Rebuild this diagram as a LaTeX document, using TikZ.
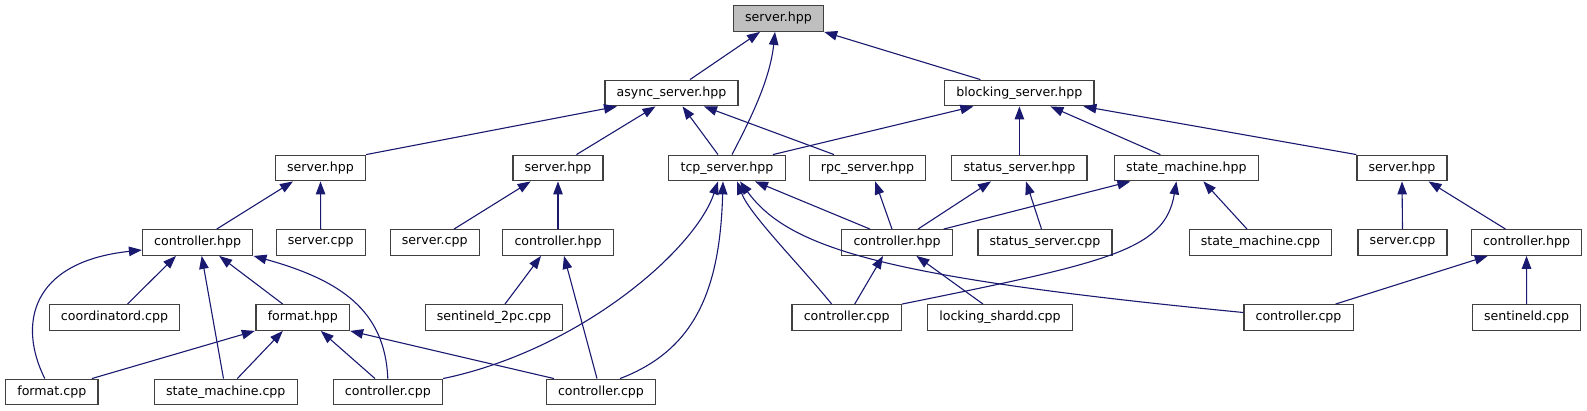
\documentclass[tikz,border=0pt]{standalone}
\usepackage{fontspec}
\setmainfont{DejaVu Sans}
\usepackage{tikz}
\usetikzlibrary{arrows.meta}
\definecolor{edgeblue}{RGB}{25,25,112}
\definecolor{focusgray}{RGB}{191,191,191}
\definecolor{boxline}{RGB}{64,64,64}

\begin{document}
\begin{tikzpicture}[x=1pt, y=-1pt,
  file/.style={draw=boxline, line width=1.25pt, fill=white, minimum height=25.6pt, inner xsep=11.7pt, inner ysep=0pt, font=\fontsize{12.6}{15}\selectfont},
  focus/.style={file, fill=focusgray},
  incl/.style={<-, >={Triangle[length=13pt, width=9.5pt]}, draw=edgeblue, line width=1.1pt}]
  \useasboundingbox (0,0) rectangle (1587,411);

  \node[focus] (server) at (778.5,18.5) {server.hpp};

  \node[file] (async) at (671.5,93) {async\_server.hpp};
  \node[file] (blocking) at (1019.4,93) {blocking\_server.hpp};

  \node[file] (asrv) at (320.5,168) {server.hpp};
  \node[file] (bsrv) at (558,168) {server.hpp};
  \node[file] (tcp) at (727,168) {tcp\_server.hpp};
  \node[file] (rpc) at (867.5,168) {rpc\_server.hpp};
  \node[file] (status) at (1019.4,168) {status\_server.hpp};
  \node[file] (smh) at (1186.4,168) {state\_machine.hpp};
  \node[file] (csrv) at (1402,168) {server.hpp};

  \node[file] (ctlA) at (197.7,242.5) {controller.hpp};
  \node[file] (srvcppA) at (320.7,242.5) {server.cpp};
  \node[file] (srvcppB) at (434.7,242.5) {server.cpp};
  \node[file] (ctlB) at (558,242.5) {controller.hpp};
  \node[file] (ctlC) at (897,242.5) {controller.hpp};
  \node[file] (statuscpp) at (1045,242.5) {status\_server.cpp};
  \node[file] (smcppC) at (1260.5,242.5) {state\_machine.cpp};
  \node[file] (srvcppC) at (1402.5,242.5) {server.cpp};
  \node[file] (ctlD) at (1526.5,242.5) {controller.hpp};

  \node[file] (coord) at (114.5,317.5) {coordinatord.cpp};
  \node[file] (fmth) at (302.8,317.5) {format.hpp};
  \node[file] (s2pc) at (494,317.5) {sentineld\_2pc.cpp};
  \node[file] (ctlcppC) at (846.7,317.5) {controller.cpp};
  \node[file] (locking) at (1000,317.5) {locking\_shardd.cpp};
  \node[file] (ctlcppD) at (1298.5,317.5) {controller.cpp};
  \node[file] (sentineld) at (1526.6,317.5) {sentineld.cpp};

  \node[file] (fmtcpp) at (51.8,392) {format.cpp};
  \node[file] (smcpp) at (225.8,392) {state\_machine.cpp};
  \node[file] (ctlcppA) at (387.8,392) {controller.cpp};
  \node[file] (ctlcppB) at (601,392) {controller.cpp};

  \draw[incl] ([xshift=-18.5pt]server.south) -- ([xshift=18.5pt]async.north);
  \draw[incl] ([xshift=-3.5pt]server.south) .. controls (770,80) and (750,120) .. ([xshift=5pt]tcp.north);
  \draw[incl] (server.south east) -- ([xshift=-39pt]blocking.north);

  \draw[incl] ([xshift=-54.5pt]async.south) -- (asrv.north east);
  \draw[incl] ([xshift=-16pt]async.south) -- ([xshift=18.5pt]bsrv.north);
  \draw[incl] ([xshift=11pt]async.south) -- ([xshift=-9pt]tcp.north);
  \draw[incl] ([xshift=32.5pt]async.south) -- ([xshift=-33.5pt]rpc.north);
  \draw[incl] ([xshift=-46pt]blocking.south) -- ([xshift=46pt]tcp.north);
  \draw[incl] (blocking.south) -- (status.north);
  \draw[incl] ([xshift=31pt]blocking.south) -- ([xshift=-26pt]smh.north);
  \draw[incl] ([xshift=64pt]blocking.south) -- (csrv.north west);

  \draw[incl] ([xshift=-27.5pt]asrv.south) -- ([xshift=19pt]ctlA.north);
  \draw[incl] (asrv.south) -- (srvcppA.north);
  \draw[incl] ([xshift=-27.4pt]bsrv.south) -- ([xshift=19.3pt]srvcppB.north);
  \draw[incl] (bsrv.south) -- (ctlB.north);
  \draw[incl] ([xshift=28pt]tcp.south) -- ([xshift=-27pt]ctlC.north);
  \draw[incl] ([xshift=7.7pt]rpc.south) -- ([xshift=-5pt]ctlC.north);
  \draw[incl] ([xshift=-28.4pt]status.south) -- ([xshift=21pt]ctlC.north);
  \draw[incl] ([xshift=6.6pt]status.south) -- ([xshift=-3.5pt]statuscpp.north);
  \draw[incl] ([xshift=-56pt]smh.south) -- ([xshift=46.7pt]ctlC.north);
  \draw[incl] ([xshift=17pt]smh.south) -- ([xshift=-13.5pt]smcppC.north);
  \draw[incl] (csrv.south) -- (srvcppC.north);
  \draw[incl] ([xshift=26.5pt]csrv.south) -- ([xshift=-21pt]ctlD.north);

  \draw[incl] ([xshift=-21.7pt]ctlA.south) -- ([xshift=13pt]coord.north);
  \draw[incl] ([xshift=21.5pt]ctlA.south) -- ([xshift=-20pt]fmth.north);
  \draw[incl] ([xshift=-17pt]ctlB.south) -- ([xshift=11pt]s2pc.north);
  \draw[incl] ([xshift=-14pt]ctlC.south) -- ([xshift=8pt]ctlcppC.north);
  \draw[incl] ([xshift=10pt]tcp.south) .. controls (750,215) and (800,265) .. ([xshift=-15pt]ctlcppC.north);
  \draw[incl] ([xshift=-10pt]smh.south) .. controls (1165,250) and (1110,262) .. (ctlcppC.north east);
  \draw[incl] ([xshift=19.4pt]ctlC.south) -- ([xshift=-17pt]locking.north);
  \draw[incl] ([xshift=13pt]tcp.south) .. controls (790,250) and (890,278) .. ([yshift=5pt]ctlcppD.west);
  \draw[incl] ([xshift=-38.8pt]ctlD.south) -- ([xshift=37pt]ctlcppD.north);
  \draw[incl] (ctlD.south) -- (sentineld.north);

  \draw[incl] ([yshift=-7.5pt]ctlA.west) .. controls (30,262) and (18,325) .. ([xshift=-7pt]fmtcpp.north);
  \draw[incl] ([xshift=-48pt]fmth.south) -- ([xshift=40pt]fmtcpp.north);
  \draw[incl] ([xshift=4pt]ctlA.south) -- ([xshift=-2.3pt]smcpp.north);
  \draw[incl] ([xshift=-20pt]fmth.south) -- ([xshift=11.5pt]smcpp.north);
  \draw[incl] (ctlA.south east) .. controls (340,280) and (385,310) .. (ctlcppA.north);
  \draw[incl] ([xshift=18pt]fmth.south) -- ([xshift=-12.8pt]ctlcppA.north);
  \draw[incl] ([xshift=-9pt]tcp.south) .. controls (695,250) and (580,350) .. (ctlcppA.north east);
  \draw[incl] (fmth.south east) -- ([xshift=-47pt]ctlcppB.north);
  \draw[incl] ([xshift=6pt]ctlB.south) -- ([xshift=-4pt]ctlcppB.north);
  \draw[incl] ([xshift=-4pt]tcp.south) .. controls (720,290) and (695,350) .. ([xshift=19pt]ctlcppB.north);
\end{tikzpicture}
\end{document}
